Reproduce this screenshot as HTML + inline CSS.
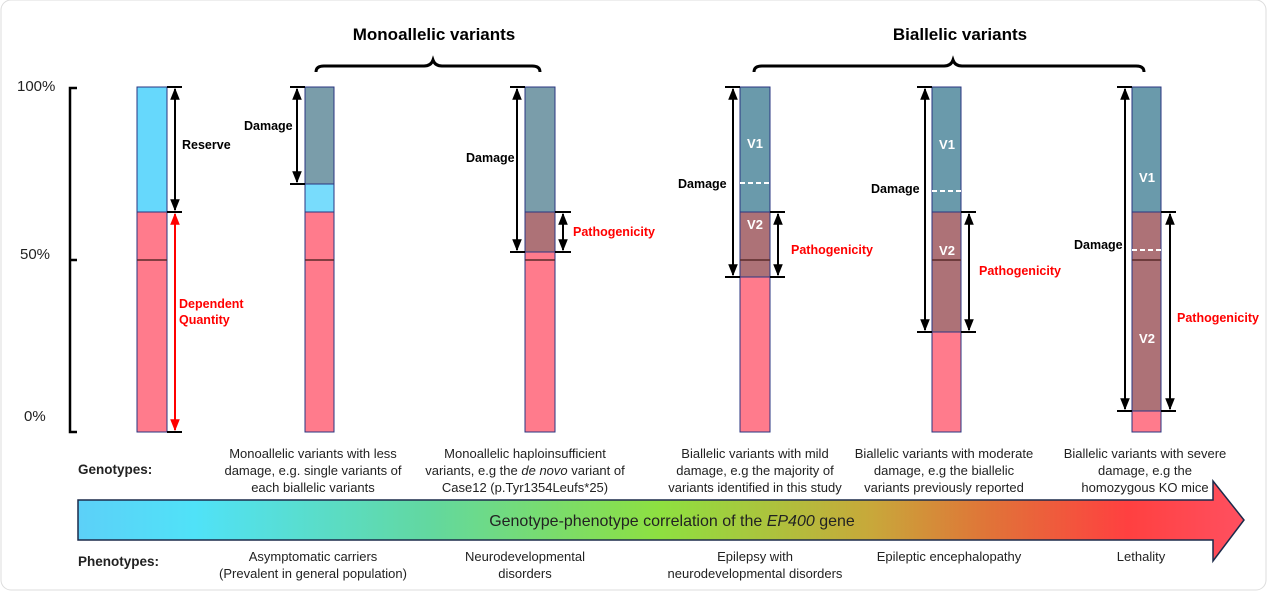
<!DOCTYPE html>
<html><head><meta charset="utf-8"><style>
html,body{margin:0;padding:0;background:#fff}
svg{display:block;font-family:"Liberation Sans",Arial,sans-serif}
</style></head><body>
<svg width="1268" height="593" viewBox="0 0 1268 593" xmlns="http://www.w3.org/2000/svg">
<defs>
<marker id="ah" viewBox="0 0 10 10" refX="9" refY="5" markerWidth="6" markerHeight="6" orient="auto-start-reverse"><path d="M0,1 L10,5 L0,9 z" fill="#000"/></marker>
<marker id="ar" viewBox="0 0 10 10" refX="9" refY="5" markerWidth="6" markerHeight="6" orient="auto-start-reverse"><path d="M0,1 L10,5 L0,9 z" fill="#f00"/></marker>
<linearGradient id="g" x1="78" x2="1244" y1="0" y2="0" gradientUnits="userSpaceOnUse">
<stop offset="0" stop-color="#5cd0f8"/><stop offset="0.1" stop-color="#50e2f8"/><stop offset="0.3" stop-color="#62d8a0"/>
<stop offset="0.5" stop-color="#8ee040"/><stop offset="0.68" stop-color="#c8a83a"/><stop offset="0.78" stop-color="#e07438"/>
<stop offset="0.9" stop-color="#ff4040"/><stop offset="1" stop-color="#ff5060"/></linearGradient>
</defs>
<rect x="1" y="0" width="1265" height="590" rx="10" fill="#fff" stroke="#ddd"/>
<text x="434" y="40" font-size="17" font-weight="bold" text-anchor="middle">Monoallelic variants</text>
<text x="960" y="40" font-size="17" font-weight="bold" text-anchor="middle">Biallelic  variants</text>
<path d="M316,72 q0,-6 8,-6 L424,66 q7,0 9,-6 q2,6 9,6 L532,66 q8,0 8,6" fill="none" stroke="#000" stroke-width="3"/>
<path d="M754,72 q0,-6 8,-6 L944,66 q7,0 9,-6 q2,6 9,6 L1136,66 q8,0 8,6" fill="none" stroke="#000" stroke-width="3"/>
<path d="M77,88 L70,88 L70,432 L77,432 M70,260 L77,260" fill="none" stroke="#000" stroke-width="2.5"/>
<g font-size="15" fill="#222"><text x="17" y="91">100%</text><text x="20" y="259">50%</text><text x="24" y="421">0%</text></g>
<g stroke="#2a3580" stroke-width="1">
<rect x="137" y="87" width="30" height="125" fill="#66d8fc"/><rect x="137" y="212" width="30" height="220" fill="#ff7b8c"/>
<rect x="305" y="87" width="29" height="97" fill="#7a9daa"/><rect x="305" y="184" width="29" height="28" fill="#78dcfc"/><rect x="305" y="212" width="29" height="220" fill="#ff7b8c"/>
<rect x="525" y="87" width="30" height="125" fill="#7a9daa"/><rect x="525" y="212" width="30" height="40" fill="#ad7277"/><rect x="525" y="252" width="30" height="180" fill="#ff7b8c"/>
<rect x="740" y="87" width="30" height="125" fill="#6a9aab"/><rect x="740" y="212" width="30" height="65" fill="#ad7277"/><rect x="740" y="277" width="30" height="155" fill="#ff7b8c"/>
<rect x="932" y="87" width="29" height="125" fill="#6a9aab"/><rect x="932" y="212" width="29" height="120" fill="#ad7277"/><rect x="932" y="332" width="29" height="100" fill="#ff7b8c"/>
<rect x="1132" y="87" width="29" height="125" fill="#6a9aab"/><rect x="1132" y="212" width="29" height="199" fill="#ad7277"/><rect x="1132" y="411" width="29" height="21" fill="#ff7b8c"/>
</g>
<g stroke="#5a2a2a" stroke-width="1.5">
<line x1="137" y1="260" x2="167" y2="260"/><line x1="305" y1="260" x2="334" y2="260"/><line x1="525" y1="260" x2="555" y2="260"/>
<line x1="740" y1="260" x2="770" y2="260"/><line x1="932" y1="260" x2="961" y2="260"/><line x1="1132" y1="260" x2="1161" y2="260"/>
</g>
<g stroke="#fff" stroke-width="2" stroke-dasharray="5,3">
<line x1="740" y1="183" x2="770" y2="183"/><line x1="932" y1="191" x2="961" y2="191"/><line x1="1132" y1="250" x2="1161" y2="250"/>
</g>
<g fill="#fff" font-size="13" font-weight="bold" text-anchor="middle">
<text x="755" y="148">V1</text><text x="755" y="229">V2</text><text x="947" y="149">V1</text><text x="947" y="255">V2</text><text x="1147" y="182">V1</text><text x="1147" y="343">V2</text>
</g>
<g stroke="#000" stroke-width="2" fill="none">
<path d="M167,87 H182 M167,212 H182 M167,432 H182"/>
<line x1="175" y1="89" x2="175" y2="210" marker-start="url(#ah)" marker-end="url(#ah)"/>
<path d="M290,87 H305 M290,184 H305"/>
<line x1="297" y1="89" x2="297" y2="182" marker-start="url(#ah)" marker-end="url(#ah)"/>
<path d="M510,87 H525 M510,252 H525 M555,212 H571 M555,252 H571"/>
<line x1="517" y1="89" x2="517" y2="250" marker-start="url(#ah)" marker-end="url(#ah)"/>
<line x1="563" y1="214" x2="563" y2="250" marker-start="url(#ah)" marker-end="url(#ah)"/>
<path d="M725,87 H740 M725,277 H740 M770,212 H785 M770,277 H785"/>
<line x1="733" y1="89" x2="733" y2="275" marker-start="url(#ah)" marker-end="url(#ah)"/>
<line x1="778" y1="214" x2="778" y2="275" marker-start="url(#ah)" marker-end="url(#ah)"/>
<path d="M917,87 H932 M917,332 H932 M961,212 H976 M961,332 H976"/>
<line x1="925" y1="89" x2="925" y2="330" marker-start="url(#ah)" marker-end="url(#ah)"/>
<line x1="969" y1="214" x2="969" y2="330" marker-start="url(#ah)" marker-end="url(#ah)"/>
<path d="M1117,87 H1132 M1117,411 H1132 M1161,212 H1176 M1161,411 H1176"/>
<line x1="1125" y1="89" x2="1125" y2="409" marker-start="url(#ah)" marker-end="url(#ah)"/>
<line x1="1170" y1="214" x2="1170" y2="409" marker-start="url(#ah)" marker-end="url(#ah)"/>
</g>
<line x1="175" y1="214" x2="175" y2="430" stroke="#f00" stroke-width="2" marker-start="url(#ar)" marker-end="url(#ar)"/>
<g font-size="12.5" font-weight="bold">
<text x="182" y="149">Reserve</text>
<text x="244" y="130">Damage</text>
<text x="466" y="162">Damage</text>
<text x="678" y="188">Damage</text>
<text x="871" y="193">Damage</text>
<text x="1074" y="249">Damage</text>
<g fill="#f00">
<text x="179" y="308">Dependent</text><text x="179" y="324">Quantity</text>
<text x="573" y="236">Pathogenicity</text>
<text x="791" y="254">Pathogenicity</text>
<text x="979" y="275">Pathogenicity</text>
<text x="1177" y="322">Pathogenicity</text>
</g></g>
<path d="M78,500 L1213,500 L1213,481 L1244,520 L1213,561 L1213,540 L78,540 Z" fill="url(#g)" stroke="#1c2a4a" stroke-width="1.5"/>
<text x="672" y="526" font-size="16" text-anchor="middle" fill="#222">Genotype-phenotype correlation of the <tspan font-style="italic">EP400</tspan> gene</text>
<g font-size="13.5" font-weight="bold" fill="#222"><text x="78" y="474">Genotypes:</text><text x="78" y="566">Phenotypes:</text></g>
<g font-size="13" fill="#222" text-anchor="middle">
<text x="313" y="458">Monoallelic variants with less</text><text x="313" y="475">damage, e.g. single variants of</text><text x="313" y="492">each biallelic variants</text>
<text x="525" y="458">Monoallelic haploinsufficient</text><text x="525" y="475">variants, e.g the <tspan font-style="italic">de novo</tspan> variant of</text><text x="525" y="492">Case12 (p.Tyr1354Leufs*25)</text>
<text x="755" y="458">Biallelic variants with mild</text><text x="755" y="475">damage, e.g the majority of</text><text x="755" y="492">variants identified in this study</text>
<text x="944" y="458">Biallelic variants with moderate</text><text x="944" y="475">damage, e.g the biallelic</text><text x="944" y="492">variants previously reported</text>
<text x="1145" y="458">Biallelic variants with severe</text><text x="1145" y="475">damage, e.g the</text><text x="1145" y="492">homozygous KO mice</text>
<text x="313" y="561">Asymptomatic carriers</text><text x="313" y="578">(Prevalent in general population)</text>
<text x="525" y="561">Neurodevelopmental</text><text x="525" y="578">disorders</text>
<text x="755" y="561">Epilepsy with</text><text x="755" y="578">neurodevelopmental disorders</text>
<text x="949" y="561">Epileptic encephalopathy</text>
<text x="1141" y="561">Lethality</text>
</g>
</svg>
</body></html>
